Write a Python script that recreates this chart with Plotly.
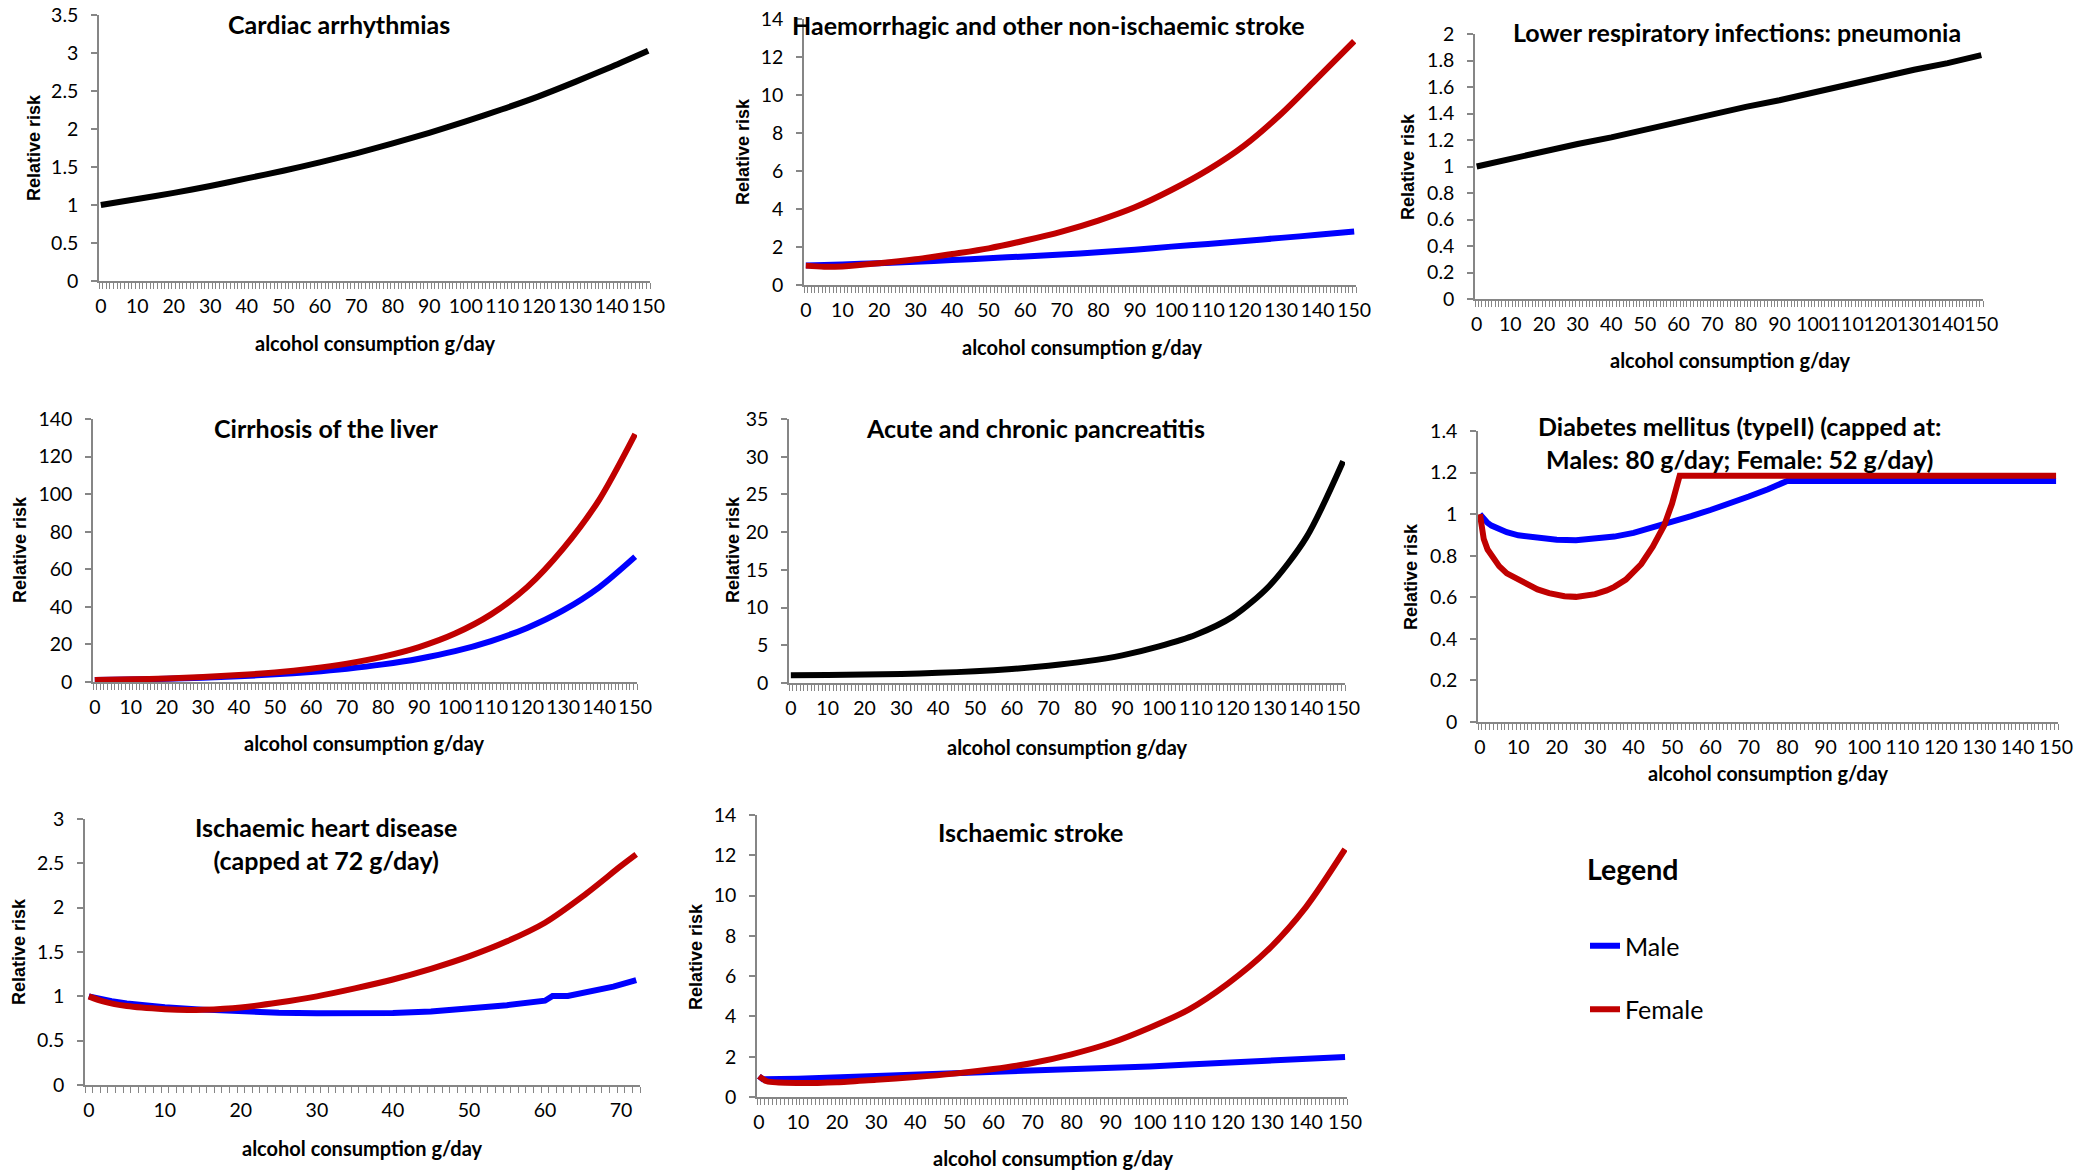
import plotly.graph_objects as go

W, H = 2096, 1173

# ---------------- data ----------------
X10 = [0, 10, 20, 30, 40, 50, 60, 70, 80, 90, 100, 110, 120, 130, 140, 150]
XTICKS150 = [0, 10, 20, 30, 40, 50, 60, 70, 80, 90, 100, 110, 120, 130, 140, 150]
XTICKS72 = [0, 10, 20, 30, 40, 50, 60, 70]

cardiac_rr = [1.00, 1.08, 1.16, 1.25, 1.35, 1.45, 1.56, 1.68, 1.81, 1.95, 2.10, 2.26, 2.43, 2.62, 2.82, 3.03]

haem_male = [1.02, 1.08, 1.15, 1.22, 1.31, 1.41, 1.50, 1.60, 1.72, 1.86, 2.02, 2.16, 2.32, 2.48, 2.64, 2.81]
haem_female_x = [0, 5, 10, 20, 30, 40, 50, 60, 70, 80, 90, 100, 110, 120, 130, 140, 150]
haem_female = [1.02, 0.96, 0.98, 1.14, 1.35, 1.63, 1.93, 2.34, 2.81, 3.39, 4.09, 5.0, 6.06, 7.35, 9.0, 10.9, 12.83]

pneumonia_rr = [1.00, 1.06, 1.11, 1.17, 1.22, 1.28, 1.34, 1.39, 1.45, 1.50, 1.56, 1.62, 1.67, 1.73, 1.78, 1.84]

cirr_male = [1.0, 1.32, 1.75, 2.32, 3.07, 4.06, 5.37, 7.10, 9.39, 12.4, 16.4, 21.8, 28.8, 38.1, 50.4, 66.7]
cirr_female = [1.0, 1.4, 1.9, 2.7, 3.7, 5.1, 7.1, 9.8, 13.5, 18.6, 25.8, 36.0, 50.5, 71.0, 97.0, 132.0]

panc_rr = [1.02, 1.06, 1.12, 1.20, 1.35, 1.55, 1.86, 2.30, 2.87, 3.67, 4.86, 6.40, 8.80, 12.9, 19.3, 29.4]

diab_male_x = [0, 1, 2, 3, 5, 7, 10, 15, 20, 25, 30, 35, 40, 45, 50, 55, 60, 65, 70, 75, 80, 150]
diab_male = [1.0, 0.975, 0.958, 0.945, 0.927, 0.913, 0.898, 0.884, 0.877, 0.875, 0.88, 0.892, 0.91,
             0.935, 0.963, 0.99, 1.02, 1.05, 1.085, 1.12, 1.16, 1.16]
diab_female_x = [0, 1, 2, 3, 4, 5, 7, 10, 12, 15, 18, 20, 22, 25, 28, 30, 33, 35, 38, 40, 42, 45, 47,
                 48, 50, 51, 52, 150]
diab_female = [1.0, 0.88, 0.83, 0.80, 0.77, 0.75, 0.715, 0.683, 0.665, 0.638, 0.62, 0.611, 0.605, 0.602,
               0.607, 0.615, 0.633, 0.65, 0.685, 0.718, 0.76, 0.843, 0.91, 0.947, 1.05, 1.11, 1.185, 1.185]

ihd_male_x = [0, 1, 3, 5, 10, 15, 20, 25, 30, 35, 40, 45, 50, 55, 60, 61, 63, 66, 69, 72]
ihd_male = [1.0, 0.98, 0.945, 0.92, 0.876, 0.85, 0.827, 0.815, 0.808, 0.807, 0.812, 0.83, 0.86, 0.90,
            0.951, 1.004, 1.004, 1.05, 1.11, 1.184]
ihd_female_x = [0, 2, 5, 10, 13, 15, 20, 25, 30, 35, 40, 45, 50, 55, 60, 65, 70, 72]
ihd_female = [1.0, 0.94, 0.89, 0.855, 0.845, 0.848, 0.875, 0.93, 1.0, 1.09, 1.19, 1.31, 1.45, 1.62,
              1.83, 2.13, 2.47, 2.6]

istroke_male_x = [0, 1, 10, 20, 30, 40, 50, 60, 70, 80, 90, 100, 110, 120, 130, 140, 150]
istroke_male = [1.03, 0.88, 0.91, 0.97, 1.03, 1.09, 1.16, 1.23, 1.30, 1.37, 1.44, 1.52, 1.61, 1.70,
                1.79, 1.89, 1.99]
istroke_female_x = [0, 2, 5, 10, 15, 20, 30, 40, 50, 60, 70, 80, 90, 100, 110, 120, 130, 140, 150]
istroke_female = [1.03, 0.78, 0.72, 0.70, 0.70, 0.73, 0.86, 0.99, 1.16, 1.39, 1.69, 2.12, 2.68, 3.44,
                  4.34, 5.63, 7.25, 9.43, 12.3]

# ---------------- styling ----------------
BLUE, RED, BLACK = "#0000FF", "#C00000", "#000000"
GRAY = "#868686"
HUM = "Lato, Carlito, Calibri, Roboto, sans-serif"
SANS = "Liberation Sans, Arial, sans-serif"
LW = 6
TICK = 19.5

fig = go.Figure()

# panel geometry in pixels: left, right, top (ymax), bottom (y=0)
panels = [
    dict(l=99, r=650, t=15, b=281, ymax=3.5, dy=0.5, ncat=151, xt=XTICKS150,
         title="Cardiac arrhythmias", tx=339, ty=24, ytx=34, yty=148, xtx=375, xty=343),
    dict(l=804, r=1356, t=19, b=285, ymax=14, dy=2, ncat=151, xt=XTICKS150,
         title="Haemorrhagic and other non-ischaemic stroke", tx=1048, ty=25, ytx=743, yty=152, xtx=1082, xty=347),
    dict(l=1475, r=1983, t=34, b=299, ymax=2, dy=0.2, ncat=151, xt=XTICKS150,
         title="Lower respiratory infections: pneumonia", tx=1737, ty=32, ytx=1408, yty=167, xtx=1730, xty=360),
    dict(l=93, r=637, t=419, b=682, ymax=140, dy=20, ncat=151, xt=XTICKS150,
         title="Cirrhosis of the liver", tx=326, ty=428, ytx=20, yty=550, xtx=364, xty=743),
    dict(l=789, r=1345, t=419, b=683, ymax=35, dy=5, ncat=151, xt=XTICKS150,
         title="Acute and chronic pancreatitis", tx=1035, ty=428, ytx=733, yty=550, xtx=1067, xty=747),
    dict(l=1478, r=2058, t=431, b=722, ymax=1.4, dy=0.2, ncat=151, xt=XTICKS150,
         title="Diabetes mellitus (typeII) (capped at:<br>Males: 80 g/day; Female: 52 g/day)",
         tx=1739, ty=442, ytx=1411, yty=577, xtx=1768, xty=773),
    dict(l=85, r=640, t=819, b=1085, ymax=3, dy=0.5, ncat=73, xt=XTICKS72,
         title="Ischaemic heart disease<br>(capped at 72 g/day)", tx=326, ty=843, ytx=19, yty=952, xtx=362, xty=1148),
    dict(l=757, r=1347, t=815, b=1097, ymax=14, dy=2, ncat=151, xt=XTICKS150,
         title="Ischaemic stroke", tx=1030, ty=832, ytx=696, yty=957, xtx=1053, xty=1158),
]


def fmt(v):
    s = ("%.1f" % v)
    return s[:-2] if s.endswith(".0") else s


annotations = []
for i, p in enumerate(panels, start=1):
    xs = "" if i == 1 else str(i)
    n = p["ymax"] / p["dy"]
    yvals = [round(k * p["dy"], 4) for k in range(int(round(n)) + 1)]
    fig.layout["xaxis" + xs] = dict(
        domain=[p["l"] / W, p["r"] / W], anchor="y" + xs, automargin=False,
        range=[-0.5, p["ncat"] - 0.5], showgrid=False, zeroline=False,
        showline=True, linecolor=GRAY, linewidth=1.5,
        tickvals=p["xt"], ticktext=[str(v) for v in p["xt"]], ticks="", tickangle=0,
        ticklabelstandoff=7,
        tickfont=dict(family=HUM, size=TICK, color="#000000"),
        minor=dict(tick0=0.5, dtick=1, ticks="outside", ticklen=6, tickwidth=1, tickcolor=GRAY, showgrid=False),
        fixedrange=True,
    )
    fig.layout["yaxis" + xs] = dict(
        domain=[1 - p["b"] / H, 1 - p["t"] / H], anchor="x" + xs, automargin=False,
        range=[0, p["ymax"]], showgrid=False, zeroline=False,
        showline=True, linecolor=GRAY, linewidth=1.5,
        tickvals=yvals, ticktext=[fmt(v) for v in yvals],
        ticks="outside", ticklen=6, tickwidth=1.5, tickcolor=GRAY,
        ticklabelstandoff=9,
        tickfont=dict(family=HUM, size=TICK, color="#000000"),
        fixedrange=True,
    )
    annotations.append(dict(text="<b>%s</b>" % p["title"], x=p["tx"] / W, y=1 - p["ty"] / H,
                            xref="paper", yref="paper", showarrow=False, xanchor="center", yanchor="middle",
                            font=dict(family=HUM, size=25, color="#000000")))
    annotations.append(dict(text="<b>Relative risk</b>", x=p["ytx"] / W, y=1 - p["yty"] / H, textangle=-90,
                            xref="paper", yref="paper", showarrow=False, xanchor="center", yanchor="middle",
                            font=dict(family=SANS, size=18, color="#000000")))
    annotations.append(dict(text="<b>alcohol consumption g/day</b>", x=p["xtx"] / W, y=1 - p["xty"] / H,
                            xref="paper", yref="paper", showarrow=False, xanchor="center", yanchor="middle",
                            font=dict(family=HUM, size=20, color="#000000")))


def add(x, y, color, i, shape="spline", name=None, legend=False):
    xs = "" if i == 1 else str(i)
    fig.add_trace(go.Scatter(
        x=x, y=y, mode="lines", xaxis="x" + xs, yaxis="y" + xs,
        line=dict(color=color, width=LW, shape=shape, smoothing=0.8 if shape == "spline" else None),
        name=name, showlegend=legend, legendgroup=name, hoverinfo="skip",
    ))


add(X10, cardiac_rr, BLACK, 1)
add(X10, haem_male, BLUE, 2, name="Male", legend=True)
add(haem_female_x, haem_female, RED, 2, name="Female", legend=True)
add(X10, pneumonia_rr, BLACK, 3, shape="linear")
add(X10, cirr_male, BLUE, 4)
add(X10, cirr_female, RED, 4)
add(X10, panc_rr, BLACK, 5)
add(diab_male_x, diab_male, BLUE, 6, shape="linear")
add(diab_female_x, diab_female, RED, 6, shape="linear")
add(ihd_male_x, ihd_male, BLUE, 7, shape="linear")
add(ihd_female_x, ihd_female, RED, 7)
add(istroke_male_x, istroke_male, BLUE, 8, shape="linear")
add(istroke_female_x, istroke_female, RED, 8)

annotations.append(dict(text="<b>Legend</b>", x=1633 / W, y=1 - 869 / H, xref="paper", yref="paper",
                        showarrow=False, xanchor="center", yanchor="middle",
                        font=dict(family=HUM, size=28.5, color="#000000")))

fig.update_layout(
    width=W, height=H, margin=dict(l=0, r=0, t=0, b=0, autoexpand=False),
    paper_bgcolor="white", plot_bgcolor="white",
    annotations=annotations,
    showlegend=True,
    legend=dict(x=1585 / W, y=1 - 923 / H, xanchor="left", yanchor="top",
                font=dict(family=HUM, size=25, color="#000000"),
                tracegroupgap=28, traceorder="grouped", bgcolor="rgba(0,0,0,0)", itemwidth=30),
)

POST = (
    "document.documentElement.style.margin='0';"
    "document.documentElement.style.overflow='hidden';"
    "document.body.style.margin='0';document.body.style.padding='0';"
    "document.body.style.overflow='hidden';"
    "var d=document.getElementById('{plot_id}');"
    "if(d){d.style.display='block';if(d.parentElement){d.parentElement.style.lineHeight='0';}}"
    "window.scrollTo(0,0);"
)

fig.write_html("out.html", config={"displayModeBar": False}, post_script=POST)
